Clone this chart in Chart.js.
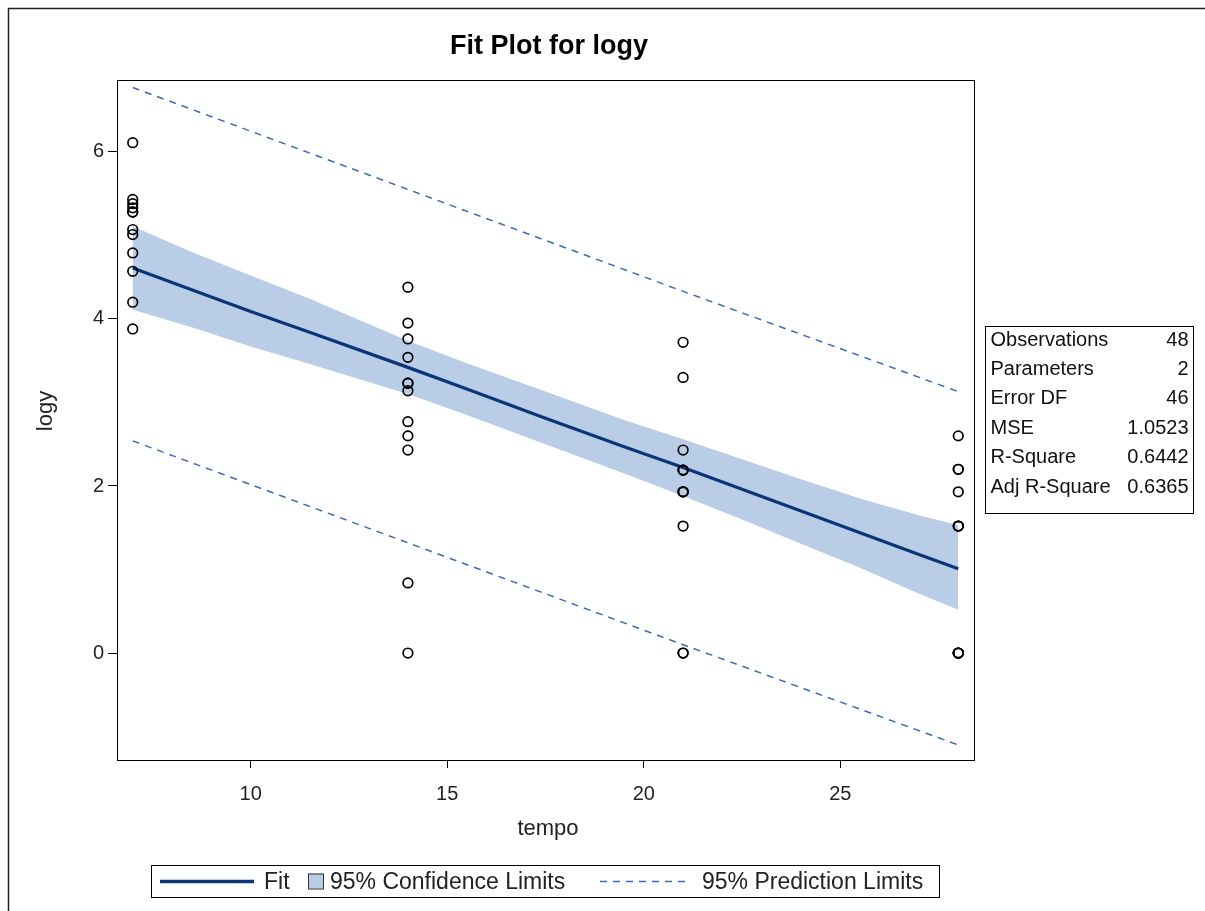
<!DOCTYPE html>
<html>
<head>
<meta charset="utf-8">
<title>Fit Plot for logy</title>
<script src="https://cdn.jsdelivr.net/npm/chart.js@4.4.1/dist/chart.umd.min.js"></script>
<style>
  html, body { margin: 0; padding: 0; background: #fff; }
  #wrap { width: 1205px; height: 911px; position: relative; }
</style>
</head>
<body>
<div id="wrap"><canvas id="fitPlot" width="1205" height="911"></canvas></div>
<script>
// observations
const tempo = [
  7, 7, 7, 7, 7, 7, 7, 7, 7, 7, 7, 7,
  14, 14, 14, 14, 14, 14, 14, 14, 14, 14, 14, 14,
  21, 21, 21, 21, 21, 21, 21, 21, 21, 21, 21, 21,
  28, 28, 28, 28, 28, 28, 28, 28, 28, 28, 28, 28
];
const logy = [
  6.11, 5.43, 5.38, 5.33, 5.28, 5.28, 5.07, 5.01, 4.79, 4.57, 4.20, 3.88,
  4.38, 3.95, 3.76, 3.54, 3.23, 3.23, 3.14, 2.77, 2.60, 2.43, 0.84, 0.00,
  3.72, 3.30, 2.43, 2.19, 2.19, 2.19, 1.93, 1.93, 1.93, 1.52, 0.00, 0.00,
  2.60, 2.20, 2.20, 1.93, 1.52, 1.52, 1.52, 0.00, 0.00, 0.00, 0.00, 0.00
];

// fitted line and 95% confidence band
const curveX  = [7, 8.5, 10, 11.5, 14, 15.5, 17.5, 19.5, 21, 22.5, 24, 25.5, 27, 28];
const fitY    = [4.61, 4.35, 4.09, 3.84, 3.42, 3.16, 2.81, 2.47, 2.22, 1.96, 1.70, 1.44, 1.18, 1.01];
const clUpper = [5.11, 4.80, 4.52, 4.24, 3.74, 3.47, 3.13, 2.79, 2.56, 2.32, 2.08, 1.85, 1.65, 1.53];
const clLower = [4.11, 3.90, 3.67, 3.46, 3.10, 2.85, 2.50, 2.15, 1.88, 1.60, 1.31, 1.02, 0.71, 0.52];

// 95% prediction limits
const predX     = [7, 14, 21, 28];
const predUpper = [6.77, 5.55, 4.33, 3.13];
const predLower = [2.54, 1.32, 0.10, -1.10];

const xTicks = [10, 15, 20, 25];
const yTicks = [0, 2, 4, 6];

const statLabels = ['Observations', 'Parameters', 'Error DF', 'MSE', 'R-Square', 'Adj R-Square'];
const statValues = ['48', '2', '46', '1.0523', '0.6442', '0.6365'];

const FONT = "'Liberation Sans', Arial, sans-serif";
const NAVY = '#0b3579';
const DASH = '#3b6cb2';
const BAND = '#bacde7';

const pts = (xs, ys) => xs.map((x, i) => ({ x: x, y: ys[i] }));

const decor = {
  id: 'decor',
  beforeDraw(chart) {
    const c = chart.ctx;
    c.save();
    c.fillStyle = '#fff';
    c.fillRect(0, 0, chart.width, chart.height);
    c.restore();
  },
  afterDraw(chart) {
    const c = chart.ctx;
    const a = chart.chartArea;
    c.save();

    // page border (top and left)
    c.strokeStyle = '#222';
    c.lineWidth = 1.5;
    c.beginPath();
    c.moveTo(8.5, chart.height);
    c.lineTo(8.5, 8.5);
    c.lineTo(chart.width, 8.5);
    c.stroke();

    // plot frame
    c.strokeStyle = '#000';
    c.lineWidth = 1;
    c.strokeRect(a.left + 0.5, a.top + 0.5, a.right - a.left, a.bottom - a.top);

    // title
    c.fillStyle = '#000';
    c.textAlign = 'center';
    c.textBaseline = 'middle';
    c.font = 'bold 27px ' + FONT;
    c.fillText('Fit Plot for logy', 549, 47);

    // axis titles
    c.fillStyle = '#222';
    c.font = '22px ' + FONT;
    c.fillText('tempo', 548, 829);
    c.save();
    c.translate(46, 411);
    c.rotate(-Math.PI / 2);
    c.fillText('logy', 0, 0);
    c.restore();

    // fit statistics box
    const bx = 985.5, by = 326.5, bw = 208, bh = 187;
    c.strokeStyle = '#000';
    c.lineWidth = 1;
    c.strokeRect(bx, by, bw, bh);
    c.font = '20px ' + FONT;
    c.fillStyle = '#111';
    statLabels.forEach((lab, i) => {
      const y = 340 + i * 29.4;
      c.textAlign = 'left';
      c.fillText(lab, bx + 5, y);
      c.textAlign = 'right';
      c.fillText(statValues[i], bx + bw - 5, y);
    });

    // legend
    const lx = 151.5, ly = 865.5, lw = 788, lh = 32;
    c.strokeStyle = '#000';
    c.strokeRect(lx, ly, lw, lh);
    const my = ly + lh / 2;
    c.font = '23px ' + FONT;
    c.textAlign = 'left';
    c.fillStyle = '#222';

    c.strokeStyle = NAVY;
    c.lineWidth = 3.5;
    c.beginPath();
    c.moveTo(160, my);
    c.lineTo(254, my);
    c.stroke();
    c.fillText('Fit', 264, my + 1);

    c.fillStyle = BAND;
    c.fillRect(308, my - 8, 15, 15);
    c.strokeStyle = '#333';
    c.lineWidth = 1;
    c.strokeRect(308.5, my - 7.5, 15, 15);
    c.fillStyle = '#222';
    c.fillText('95% Confidence Limits', 330, my + 1);

    c.strokeStyle = DASH;
    c.lineWidth = 1.5;
    c.setLineDash([7, 6]);
    c.beginPath();
    c.moveTo(600, my);
    c.lineTo(688, my);
    c.stroke();
    c.setLineDash([]);
    c.fillText('95% Prediction Limits', 702, my + 1);

    c.restore();
  }
};

new Chart(document.getElementById('fitPlot').getContext('2d'), {
  type: 'scatter',
  data: {
    datasets: [
      {
        label: 'logy',
        data: pts(tempo, logy),
        pointStyle: 'circle',
        pointRadius: 4.8,
        pointBorderWidth: 1.7,
        pointBorderColor: '#000',
        pointBackgroundColor: 'rgba(0,0,0,0)',
        order: 0
      },
      {
        label: 'Fit',
        data: pts(curveX, fitY),
        showLine: true,
        borderColor: NAVY,
        borderWidth: 3.2,
        pointRadius: 0,
        order: 1
      },
      {
        label: '95% Prediction Limits',
        data: pts(predX, predUpper),
        showLine: true,
        borderColor: DASH,
        borderWidth: 1.5,
        borderDash: [7, 6],
        pointRadius: 0,
        order: 2
      },
      {
        label: '95% Prediction Limits (lower)',
        data: pts(predX, predLower),
        showLine: true,
        borderColor: DASH,
        borderWidth: 1.5,
        borderDash: [7, 6],
        pointRadius: 0,
        order: 2
      },
      {
        label: 'CL lower',
        data: pts(curveX, clLower),
        showLine: true,
        borderWidth: 0,
        borderColor: 'rgba(0,0,0,0)',
        pointRadius: 0,
        fill: false,
        order: 3
      },
      {
        label: '95% Confidence Limits',
        data: pts(curveX, clUpper),
        showLine: true,
        borderWidth: 0,
        borderColor: 'rgba(0,0,0,0)',
        backgroundColor: BAND,
        pointRadius: 0,
        fill: 4,
        order: 3
      }
    ]
  },
  options: {
    responsive: false,
    animation: false,
    layout: { padding: { left: 0, right: 231, top: 80, bottom: 0 } },
    plugins: {
      legend: { display: false },
      title: { display: false },
      tooltip: { enabled: false }
    },
    scales: {
      x: {
        type: 'linear',
        min: 6.6,
        max: 28.4,
        afterBuildTicks: s => { s.ticks = xTicks.map(v => ({ value: v })); },
        afterFit: s => { s.height = 151; },
        ticks: { font: { family: FONT, size: 20 }, color: '#222', padding: 14, maxRotation: 0 },
        grid: { drawOnChartArea: false, drawTicks: true, tickLength: 8, color: '#000' },
        border: { display: true, color: '#000', width: 1 }
      },
      y: {
        type: 'linear',
        min: -1.28,
        max: 6.86,
        afterBuildTicks: s => { s.ticks = yTicks.map(v => ({ value: v })); },
        afterFit: s => { s.width = 117; },
        ticks: { font: { family: FONT, size: 20 }, color: '#222', padding: 4 },
        grid: { drawOnChartArea: false, drawTicks: true, tickLength: 9, color: '#000' },
        border: { display: true, color: '#000', width: 1 }
      }
    }
  },
  plugins: [decor]
});
</script>
</body>
</html>
